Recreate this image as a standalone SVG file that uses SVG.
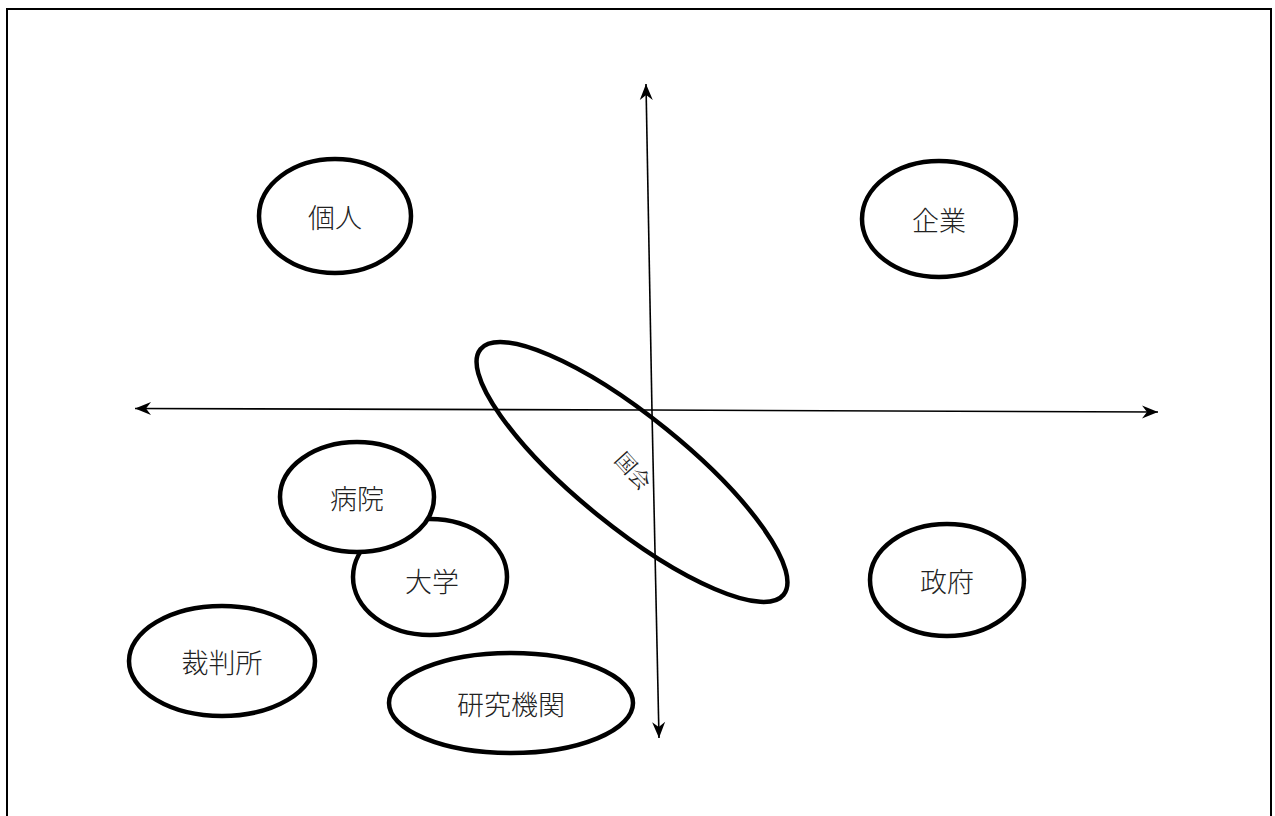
<svg xmlns="http://www.w3.org/2000/svg" width="1275" height="816" viewBox="0 0 1275 816">
<style>
.node{fill:none;stroke:#000;stroke-width:4.5}
.lbl{font-family:"Noto Sans CJK JP","Noto Sans",sans-serif;font-size:27px;fill:#222;text-anchor:middle;dominant-baseline:central;font-weight:300}
.axis{stroke:#000;stroke-width:1.6;fill:none}
</style>
<defs>
<marker id="ah" markerUnits="userSpaceOnUse" markerWidth="20" markerHeight="16" viewBox="-17 -8 20 16" refX="0" refY="0" orient="auto">
<path d="M0,0 L-16,-6.5 L-11,0 L-16,6.5 Z" fill="#000"/>
</marker>
</defs>
<rect x="0" y="0" width="1275" height="816" fill="#fff"/>
<rect x="7" y="9" width="1264" height="830" fill="none" stroke="#000" stroke-width="2"/>
<g id="connectors">
<line class="axis" x1="652" y1="412" x2="646" y2="84" marker-end="url(#ah)"/>
<line class="axis" x1="652" y1="412" x2="659" y2="738" marker-end="url(#ah)"/>
<line class="axis" x1="650" y1="410" x2="135" y2="408.5" marker-end="url(#ah)"/>
<line class="axis" x1="650" y1="410" x2="1158" y2="412" marker-end="url(#ah)"/>
</g>
<g id="kojin"><ellipse class="node" cx="335" cy="216" rx="76" ry="57"/><text class="lbl" x="335" y="216">個人</text></g>
<g id="kigyo"><ellipse class="node" cx="939" cy="219" rx="77" ry="58"/><text class="lbl" x="939" y="219">企業</text></g>
<g id="kokkai"><ellipse class="node" cx="632" cy="472" rx="195" ry="55" transform="rotate(39 632 472)"/><text x="634" y="470" transform="rotate(48 634 470)" style="font-family:'Noto Serif CJK JP','Noto Sans CJK JP',serif;font-size:21px;text-anchor:middle;dominant-baseline:central;fill:#222">国会</text></g>
<g id="daigaku"><ellipse class="node" cx="430" cy="577" rx="77" ry="58"/><text class="lbl" x="432" y="580">大学</text></g>
<g id="byoin"><ellipse class="node" cx="357" cy="497" rx="77" ry="55" style="fill:#fff"/><text class="lbl" x="357" y="497">病院</text></g>
<g id="saibansho"><ellipse class="node" cx="222" cy="661" rx="93" ry="55"/><text class="lbl" x="222" y="661">裁判所</text></g>
<g id="kenkyu"><ellipse class="node" cx="511" cy="703" rx="122" ry="50"/><text class="lbl" x="511" y="703">研究機関</text></g>
<g id="seifu"><ellipse class="node" cx="947" cy="580" rx="77" ry="56"/><text class="lbl" x="947" y="580">政府</text></g>
</svg>
